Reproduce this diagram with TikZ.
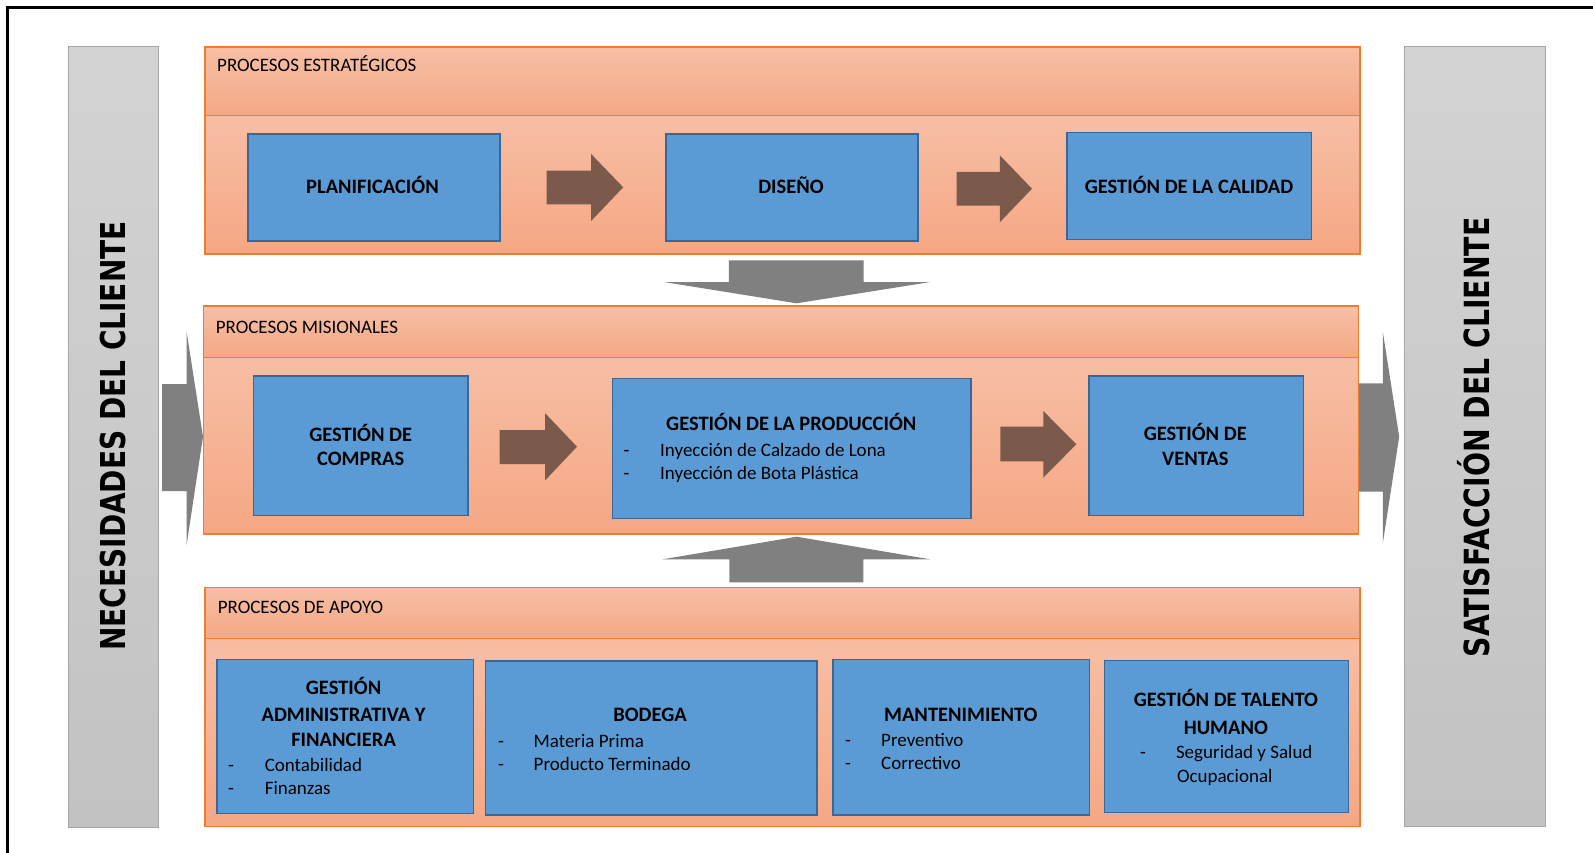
\documentclass[tikz,border=0pt]{standalone}
\usepackage{fontspec}
\setmainfont{Carlito}
\newfontfamily\sidefont{DejaVu Sans}
\usetikzlibrary{fit}

\definecolor{hdtop}{HTML}{F7BFA5}
\definecolor{hdbot}{HTML}{F4A885}
\definecolor{bdtop}{HTML}{F7BEA4}
\definecolor{bdbot}{HTML}{F5A784}
\definecolor{orangeedge}{HTML}{ED7D31}
\definecolor{boxblue}{HTML}{5B9BD5}
\definecolor{blueedge}{HTML}{3A6799}
\definecolor{arrowbrown}{HTML}{7B5A4C}
\definecolor{arrowgray}{HTML}{808080}
\definecolor{bartop}{HTML}{D3D3D3}
\definecolor{barbot}{HTML}{C2C2C2}
\definecolor{baredge}{HTML}{A6A6A6}

\begin{document}
\begin{tikzpicture}[x=1pt,y=-1pt,
  procband/.style={draw=orangeedge, line width=1.3pt, top color=hdtop, bottom color=hdbot, inner sep=0pt},
  procbody/.style={draw=orangeedge, line width=1.3pt, top color=bdtop, bottom color=bdbot, inner sep=0pt},
  bluebox/.style={draw=blueedge, line width=1.3pt, fill=boxblue, inner sep=0pt},
  sidebar/.style={draw=baredge, line width=1pt, top color=bartop, bottom color=barbot, inner sep=0pt},
  flowarrow/.style={fill=arrowbrown},
  bigarrow/.style={fill=arrowgray},
  boxtitle/.style={font=\fontsize{20.5}{24}\selectfont\bfseries, inner sep=0pt, anchor=base},
  itemtext/.style={font=\fontsize{19}{23}\selectfont, inner sep=0pt, anchor=base west},
  dashmark/.style={font=\fontsize{19}{23}\selectfont, inner sep=0pt, anchor=base},
  headlabel/.style={font=\fontsize{19}{23}\selectfont, inner sep=0pt, anchor=base west},
  sidelabel/.style={font=\fontsize{28}{30}\selectfont\sidefont\bfseries, inner sep=0pt, anchor=base, rotate=90}
]
\useasboundingbox (0,0) rectangle (1593,853);
\fill[white] (0,0) rectangle (1593,853);

% page frame (top and left edges)
\draw[black, line width=2.4pt] (7.5,853) -- (7.5,7.5) -- (1593,7.5);

% side bars
\node[sidebar, fit={(68,47) (158,827)}] (needbar) {};
\node[sidebar, fit={(1404,47) (1545.5,826)}] (satbar) {};

% large grey arrows: customer input / output
\fill[bigarrow] (162,384) -- (186.6,384) -- (186.6,331.7) -- (203,436.7)
  -- (186.6,545) -- (186.6,491) -- (162,491) -- cycle;
\fill[bigarrow] (1359,383.3) -- (1382.8,383.3) -- (1382.8,331.7) -- (1399.2,436.7)
  -- (1382.8,543.3) -- (1382.8,491.7) -- (1359,491.7) -- cycle;

% large grey arrows between process groups
\fill[bigarrow] (728.9,260.3) -- (863.6,260.3) -- (863.6,282) -- (930.5,282)
  -- (796.6,303.3) -- (663.8,282) -- (728.9,282) -- cycle;
\fill[bigarrow] (729.3,582.3) -- (863.3,582.3) -- (863.3,559.3) -- (930,559.3)
  -- (796.7,536.7) -- (662.7,559.3) -- (729.3,559.3) -- cycle;

% process groups
\node[procband, fit={(205,47) (1360,115.7)}] (strathead) {};
\node[procbody, fit={(205,115.7) (1360,254)}] (stratbody) {};
\node[procband, fit={(203.6,306) (1358.5,357.3)}] (mishead) {};
\node[procbody, fit={(203.6,357.3) (1358.5,534)}] (misbody) {};
\node[procband, fit={(205,587.3) (1360,638.3)}] (apohead) {};
\node[procbody, fit={(205,638.3) (1360,826.7)}] (apobody) {};

\node[headlabel] (strattxt) at (217,72) {PROCESOS ESTRATÉGICOS};
\node[headlabel] (mistxt) at (215.6,333) {PROCESOS MISIONALES};
\node[headlabel] (apotxt) at (217.6,613) {PROCESOS DE APOYO};

% strategic processes
\node[bluebox, fit={(248,134) (500,241)}] (plan) {};
\node[bluebox, fit={(666,134) (918,241)}] (dise) {};
\node[bluebox, fit={(1067,132.3) (1311.4,239.7)}] (cali) {};
\node[boxtitle] (plantxt) at (372.5,194) {PLANIFICACIÓN};
\node[boxtitle] (disetxt) at (791,193.3) {DISEÑO};
\node[boxtitle] (calitxt) at (1189,193.3) {GESTIÓN DE LA CALIDAD};

\fill[flowarrow] (546.7,170.7) -- (591.1,170.7) -- (591.1,154) -- (623.2,187.3)
  -- (591.1,221) -- (591.1,204.3) -- (546.7,204.3) -- cycle;
\fill[flowarrow] (956.6,172) -- (999.8,172) -- (999.8,155.3) -- (1032,188.7)
  -- (999.8,222.3) -- (999.8,205.7) -- (956.6,205.7) -- cycle;

% core processes
\node[bluebox, fit={(253.3,376) (468,515.7)}] (comp) {};
\node[bluebox, fit={(612.5,378.7) (971,518.3)}] (prod) {};
\node[bluebox, fit={(1089,376) (1303.6,515.3)}] (vent) {};

\node[boxtitle] (comptxta) at (360.7,441.7) {GESTIÓN DE};
\node[boxtitle] (comptxtb) at (360.7,465.7) {COMPRAS};

\node[boxtitle] (prodtxt) at (791.3,430.7) {GESTIÓN DE LA PRODUCCIÓN};
\node[dashmark] (proddasha) at (626.6,456) {-};
\node[itemtext] (proditema) at (660,456) {Inyección de Calzado de Lona};
\node[dashmark] (proddashb) at (626.6,479) {-};
\node[itemtext] (proditemb) at (660,479) {Inyección de Bota Plástica};

\node[boxtitle] (venttxta) at (1195.3,440) {GESTIÓN DE};
\node[boxtitle] (venttxtb) at (1195.3,465.7) {VENTAS};

\fill[flowarrow] (499.6,430) -- (545.2,430) -- (545.2,413.3) -- (577,446.7)
  -- (545.2,480.3) -- (545.2,464) -- (499.6,464) -- cycle;
\fill[flowarrow] (1000.3,426.7) -- (1043.3,426.7) -- (1043.3,411) -- (1076.3,444.3)
  -- (1043.3,477.7) -- (1043.3,461.3) -- (1000.3,461.3) -- cycle;

% support processes
\node[bluebox, fit={(217,659.3) (473.3,813.3)}] (admin) {};
\node[bluebox, fit={(485.4,661) (817,815)}] (bode) {};
\node[bluebox, fit={(833,659.3) (1089.3,815)}] (mant) {};
\node[bluebox, fit={(1104.5,660.7) (1348.8,812.3)}] (tale) {};

\node[boxtitle] (admintxta) at (343.6,694) {GESTIÓN};
\node[boxtitle] (admintxtb) at (343.6,721) {ADMINISTRATIVA Y};
\node[boxtitle] (admintxtc) at (343.6,746) {FINANCIERA};
\node[dashmark] (admindasha) at (231,771) {-};
\node[itemtext] (adminitema) at (264.6,771) {Contabilidad};
\node[dashmark] (admindashb) at (231,794.7) {-};
\node[itemtext] (adminitemb) at (264.6,794.7) {Finanzas};

\node[boxtitle] (bodetxt) at (650,721) {BODEGA};
\node[dashmark] (bodedasha) at (501,747.3) {-};
\node[itemtext] (bodeitema) at (533.5,747.3) {Materia Prima};
\node[dashmark] (bodedashb) at (501,770.7) {-};
\node[itemtext] (bodeitemb) at (533.5,770.7) {Producto Terminado};

\node[boxtitle] (manttxt) at (960.8,721.7) {MANTENIMIENTO};
\node[dashmark] (mantdasha) at (848,746.7) {-};
\node[itemtext] (mantitema) at (881,746.7) {Preventivo};
\node[dashmark] (mantdashb) at (848,769.3) {-};
\node[itemtext] (mantitemb) at (881,769.3) {Correctivo};

\node[boxtitle] (taletxta) at (1225.9,706.7) {GESTIÓN DE TALENTO};
\node[boxtitle] (taletxtb) at (1225.9,734) {HUMANO};
\node[dashmark] (taledash) at (1143,758.7) {-};
\node[itemtext] (taleitema) at (1175.8,758.7) {Seguridad y Salud};
\node[itemtext] (taleitemb) at (1176.8,782.3) {Ocupacional};

% side labels
\node[sidelabel] (needtxt) at (125.5,436) {\scalebox{1}[1.225]{NECESIDADES DEL CLIENTE}};
\node[sidelabel] (sattxt) at (1489.3,437.4) {\scalebox{1}[1.225]{\fontsize{28.3}{30}\selectfont SATISFACCIÓN DEL CLIENTE}};
\end{tikzpicture}
\end{document}
